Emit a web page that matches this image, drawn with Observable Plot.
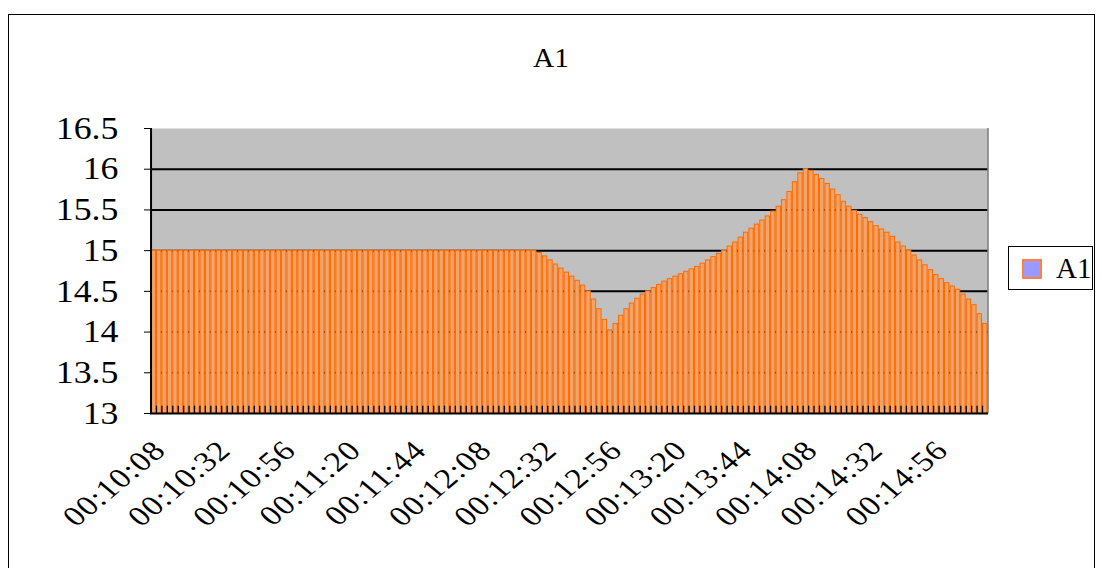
<!DOCTYPE html>
<html>
<head>
<meta charset="utf-8">
<script src="https://cdn.jsdelivr.net/npm/d3@7"></script>
<script src="https://cdn.jsdelivr.net/npm/@observablehq/plot@0.6"></script>
<style>
  html, body { margin: 0; padding: 0; background: #fff; }
  #wrap { position: relative; width: 1102px; height: 568px; overflow: hidden; font-family: "Liberation Serif", serif; }
  #frame { position: absolute; left: 8px; top: 14px; width: 1087px; height: 560px; border: 1px solid #000; box-sizing: border-box; }
  #title { position: absolute; left: 0; width: 1102px; top: 42px; text-align: center; font-size: 28px; color: #000; transform: scaleX(1.05); }
  #chart { position: absolute; left: 0; top: 0; }
  #legend { position: absolute; left: 1008px; top: 246px; width: 85px; height: 44px; border: 1px solid #000; box-sizing: border-box; background: #fff; }
  #legend .sw { position: absolute; left: 13px; top: 12px; width: 16px; height: 16px; background: #9999FF; border: 2px solid #FF8040; }
  #legend .lb { position: absolute; left: 47px; top: 6px; font-size: 29px; line-height: 30px; }
  g[aria-label="x-axis tick label"] text { letter-spacing: 1px; }
</style>
</head>
<body>
<div id="wrap">
  <div id="frame"></div>
  <div id="chart"></div>
  <div id="title">A1</div>
  <div id="legend"><div class="sw"></div><div class="lb">A1</div></div>
</div>
<script>
const times = [
"00:10:08","00:10:10","00:10:12","00:10:14","00:10:16","00:10:18","00:10:20","00:10:22","00:10:24","00:10:26","00:10:28","00:10:30","00:10:32","00:10:34","00:10:36","00:10:38","00:10:40","00:10:42","00:10:44","00:10:46","00:10:48","00:10:50","00:10:52","00:10:54","00:10:56","00:10:58",
"00:11:00","00:11:02","00:11:04","00:11:06","00:11:08","00:11:10","00:11:12","00:11:14","00:11:16","00:11:18","00:11:20","00:11:22","00:11:24","00:11:26","00:11:28","00:11:30","00:11:32","00:11:34","00:11:36","00:11:38","00:11:40","00:11:42","00:11:44","00:11:46","00:11:48","00:11:50","00:11:52","00:11:54","00:11:56","00:11:58",
"00:12:00","00:12:02","00:12:04","00:12:06","00:12:08","00:12:10","00:12:12","00:12:14","00:12:16","00:12:18","00:12:20","00:12:22","00:12:24","00:12:26","00:12:28","00:12:30","00:12:32","00:12:34","00:12:36","00:12:38","00:12:40","00:12:42","00:12:44","00:12:46","00:12:48","00:12:50","00:12:52","00:12:54","00:12:56","00:12:58",
"00:13:00","00:13:02","00:13:04","00:13:06","00:13:08","00:13:10","00:13:12","00:13:14","00:13:16","00:13:18","00:13:20","00:13:22","00:13:24","00:13:26","00:13:28","00:13:30","00:13:32","00:13:34","00:13:36","00:13:38","00:13:40","00:13:42","00:13:44","00:13:46","00:13:48","00:13:50","00:13:52","00:13:54","00:13:56","00:13:58",
"00:14:00","00:14:02","00:14:04","00:14:06","00:14:08","00:14:10","00:14:12","00:14:14","00:14:16","00:14:18","00:14:20","00:14:22","00:14:24","00:14:26","00:14:28","00:14:30","00:14:32","00:14:34","00:14:36","00:14:38","00:14:40","00:14:42","00:14:44","00:14:46","00:14:48","00:14:50","00:14:52","00:14:54","00:14:56","00:14:58",
"00:15:00","00:15:02","00:15:04","00:15:06","00:15:08","00:15:10","00:15:12","00:15:14"
];

const a1 = [
15,15,15,15,15,15,15,15,15,15,
15,15,15,15,15,15,15,15,15,15,
15,15,15,15,15,15,15,15,15,15,
15,15,15,15,15,15,15,15,15,15,
15,15,15,15,15,15,15,15,15,15,
15,15,15,15,15,15,15,15,15,15,
15,15,15,15,15,15,15,15,15,15,
15,14.97,14.93,14.88,14.83,14.78,14.73,14.68,14.63,14.57,
14.5,14.4,14.28,14.15,14.02,14.1,14.2,14.28,14.35,14.41,
14.46,14.5,14.54,14.58,14.62,14.65,14.68,14.71,14.74,14.77,
14.8,14.84,14.88,14.92,14.96,15.0,15.05,15.1,15.16,15.22,
15.27,15.32,15.37,15.42,15.48,15.54,15.62,15.72,15.84,15.95,
16.0,15.98,15.93,15.88,15.82,15.75,15.68,15.6,15.54,15.49,
15.44,15.4,15.35,15.3,15.26,15.22,15.17,15.1,15.05,15.0,
14.94,14.88,14.82,14.76,14.7,14.65,14.6,14.56,14.52,14.46,
14.4,14.33,14.22,14.1
];

const xTickLabels = ["00:10:08","00:10:32","00:10:56","00:11:20","00:11:44","00:12:08","00:12:32","00:12:56","00:13:20","00:13:44","00:14:08","00:14:32","00:14:56"];
const yTicks = [13, 13.5, 14, 14.5, 15, 15.5, 16, 16.5];
const gridLines = [13.5, 14, 14.5, 15, 15.5, 16];

const data = times.map((t, i) => ({t, v: a1[i]}));

const W = 1102, H = 568, mL = 150, mR = 114, mT = 128, mB = 155;
const step = (W - mL - mR) / times.length;

const chart = Plot.plot({
  width: W, height: H,
  marginLeft: mL, marginRight: mR, marginTop: mT, marginBottom: mB,
  style: { background: "transparent", fontFamily: "Liberation Serif, serif", color: "#000", overflow: "visible" },
  x: { type: "band", domain: times, padding: 0.2, align: 0.5 },
  y: { domain: [13, 16.5] },
  marks: [
    Plot.frame({ fill: "#C0C0C0", stroke: "none" }),
    Plot.ruleY(gridLines, { stroke: "#000", strokeWidth: 2 }),
    Plot.barY(data, { x: "t", y1: d => 13, y2: "v", fill: "#F4A468", stroke: "#FF6A00", strokeWidth: 1 }),
    Plot.ruleX([times[times.length - 1]], { y1: 13, y2: 16.5, dx: step / 2, stroke: "#808080", strokeWidth: 1.5 }),
    Plot.ruleX(times, { y1: 13, y2: 13.09, dx: -step / 2, stroke: "#000", strokeWidth: 1.3 }),
    Plot.ruleX([times[0]], { y1: 13, y2: 16.5, dx: -step / 2, stroke: "#000", strokeWidth: 2 }),
    Plot.ruleY([13], { stroke: "#000", strokeWidth: 2 }),
    Plot.axisY({ ticks: yTicks, tickFormat: d => String(d), tickSize: 6, tickPadding: 26, fontSize: 32, label: null }),
    Plot.axisX({ ticks: xTickLabels, tickRotate: -45, tickSize: 0, tickPadding: 32, dx: 6, fontSize: 28, label: null })
  ]
});
document.getElementById("chart").appendChild(chart);

// horizontal stretch of tick labels, as in the reference picture
function stretch(selector, s) {
  chart.querySelectorAll(selector).forEach(el => {
    let t = el.getAttribute("transform") || "";
    if (t.includes("rotate(")) t = t.replace("rotate(", `scale(${s},1) rotate(`);
    else t = t + ` scale(${s},1)`;
    el.setAttribute("transform", t);
  });
}
stretch('g[aria-label="x-axis tick label"] text', 1.2);
stretch('g[aria-label="y-axis tick label"] text', 1.12);
</script>
</body>
</html>
